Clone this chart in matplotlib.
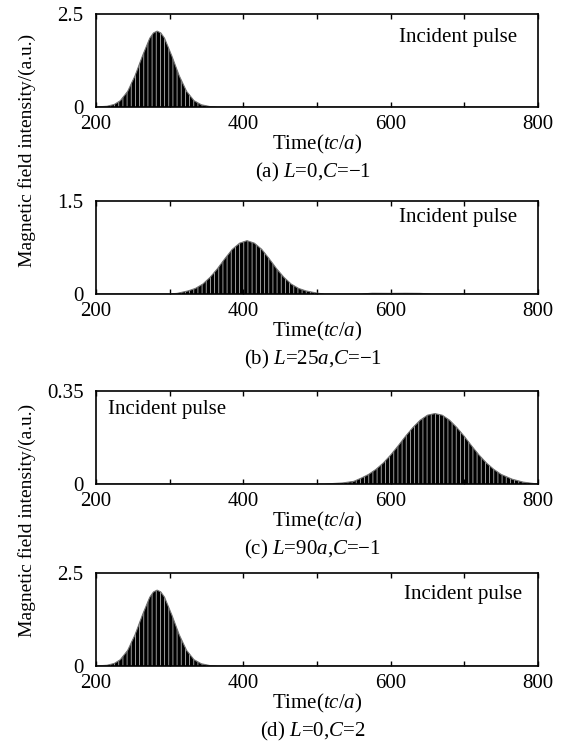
import numpy as np
import matplotlib
matplotlib.use("Agg")
import matplotlib.pyplot as plt
from matplotlib.ticker import MultipleLocator

plt.rcParams['font.family'] = ['Liberation Serif', 'DejaVu Serif']
plt.rcParams['mathtext.fontset'] = 'custom'
plt.rcParams['mathtext.rm'] = 'Liberation Serif'
plt.rcParams['mathtext.it'] = 'Liberation Serif:italic'
plt.rcParams['hatch.linewidth'] = 0.6

# envelope of the pulse (time in tc/a, intensity in a.u.)
t_a = [200, 215, 225, 233, 243, 253, 263, 273, 278, 283, 288, 293, 303, 313, 323, 333, 343, 355, 365, 800]
h_a = [0, 0.02, 0.07, 0.17, 0.42, 0.84, 1.37, 1.85, 1.99, 2.04, 1.99, 1.85, 1.37, 0.84, 0.42, 0.17, 0.06, 0.01, 0, 0]

t_b = [200, 300, 310, 325, 335, 345, 355, 365, 375, 385, 395, 405, 415, 425, 435, 445, 455, 465, 475, 485, 500, 510,
       560, 575, 600, 620, 640, 655, 800]
h_b = [0, 0, 0.01, 0.05, 0.09, 0.16, 0.27, 0.41, 0.57, 0.72, 0.82, 0.86, 0.82, 0.72, 0.57, 0.41, 0.27, 0.16, 0.09, 0.05,
       0.014, 0, 0, 0.012, 0.01, 0.012, 0.01, 0, 0]

t_c = [200, 510, 520, 535, 550, 560, 570, 580, 590, 600, 610, 620, 630, 640, 650, 660, 670, 680, 690, 700, 710, 720,
       730, 740, 750, 765, 780, 795, 800]
h_c = [0, 0, 0.0015, 0.004, 0.010, 0.022, 0.036, 0.055, 0.079, 0.109, 0.143, 0.179, 0.212, 0.240, 0.259, 0.265, 0.259,
       0.240, 0.212, 0.179, 0.143, 0.109, 0.079, 0.055, 0.036, 0.018, 0.007, 0.0015, 0]

t_d = [200, 215, 225, 233, 243, 253, 263, 273, 278, 283, 288, 293, 303, 313, 323, 333, 343, 355, 365, 800]
h_d = [0, 0.02, 0.07, 0.17, 0.42, 0.84, 1.37, 1.85, 1.99, 2.04, 1.99, 1.85, 1.37, 0.84, 0.42, 0.17, 0.06, 0.01, 0, 0]

ytops = [2.5, 1.5, 0.35, 2.5]
ytick_labels = [['0', '2.5'], ['0', '1.5'], ['0', '0.35'], ['0', '2.5']]
xticks = [200, 400, 600, 800]
captions = ['(a) $L$=0,$C$=\u22121', '(b) $L$=25$a$,$C$=\u22121',
            '(c) $L$=90$a$,$C$=\u22121', '(d) $L$=0,$C$=2']
label_x = [771, 771, 216, 779]
label_ha = ['right', 'right', 'left', 'right']
label_y = [0.75, 0.82, 0.80, 0.77]

times = [t_a, t_b, t_c, t_d]
heights = [h_a, h_b, h_c, h_d]

fig = plt.figure(figsize=(5.82, 7.51), dpi=100)
W, H = 582.0, 751.0
ax_left, ax_right, ax_h = 96, 538, 93
ax_bottoms = [107, 294, 484, 666]

for i in range(4):
    b = ax_bottoms[i]
    ax = fig.add_axes([ax_left / W, 1 - b / H, (ax_right - ax_left) / W, ax_h / H])
    ax.fill_between(times[i], 0, heights[i], facecolor='black', edgecolor='0.7',
                    hatch='||||', linewidth=0)
    ax.plot(times[i], heights[i], color='0.45', lw=0.8)
    ax.set_xlim(200, 800)
    ax.set_ylim(0, ytops[i])
    ax.set_xticks(xticks)
    ax.xaxis.set_minor_locator(MultipleLocator(100))
    ax.set_yticks([0, ytops[i]])
    ax.set_yticklabels(ytick_labels[i])
    ax.tick_params(axis='both', which='both', direction='in', length=3.5, width=1,
                   top=True, labelsize=15, pad=6)
    ax.tick_params(axis='y', length=0, pad=9)
    for s in ax.spines.values():
        s.set_linewidth(1.2)
    ax.text(label_x[i], label_y[i], 'Incident pulse', ha=label_ha[i], va='center',
            fontsize=15, transform=ax.get_xaxis_transform())
    ax.text(0.5, -37 / ax_h, 'Time($tc/a$)', ha='center', va='center',
            fontsize=15, transform=ax.transAxes)
    ax.text(0.49, -65 / ax_h, captions[i], ha='center', va='center',
            fontsize=15, transform=ax.transAxes)

fig.text(27 / W, 1 - 150 / H, 'Magnetic field intensity/(a.u.)', rotation=90,
         ha='center', va='center', fontsize=14)
fig.text(27 / W, 1 - 520 / H, 'Magnetic field intensity/(a.u.)', rotation=90,
         ha='center', va='center', fontsize=14)

fig.savefig('out.png', dpi=100)
